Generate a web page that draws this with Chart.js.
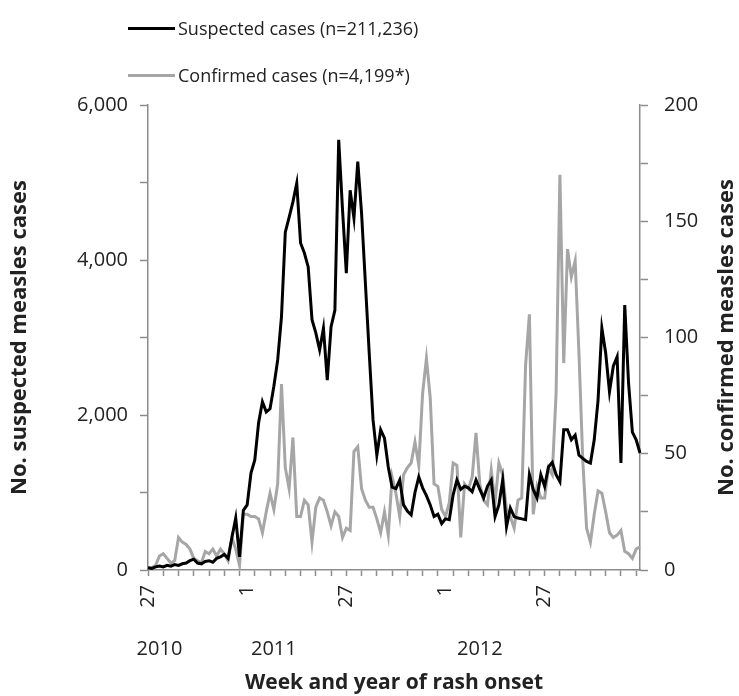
<!DOCTYPE html>
<html>
<head>
<meta charset="utf-8">
<script src="https://cdn.jsdelivr.net/npm/chart.js@4.4.0/dist/chart.umd.min.js"></script>
<style>
  body { margin: 0; background: #fff; }
  #wrap { position: relative; width: 739px; height: 696px; }
  #legend { position: absolute; left: 128px; top: 0; font-family: 'Open Sans', sans-serif; font-size: 18px; color: #222; }
  .item { position: absolute; left: 0; display: flex; align-items: center; white-space: nowrap; }
  .swatch { width: 47px; height: 3px; margin-right: 3px; }
</style>
</head>
<body>
<div id="wrap">
  <canvas id="myChart" width="739" height="696"></canvas>
  <div id="legend"></div>
</div>
<script>
// weeks of rash onset: 2010 wk27 .. 2012 wk52
const years = [2010, 2011, 2012]
const firstWeek = 27
const weeksPerYear = 52

const suspected = [
  30, 20, 40, 50, 40, 60, 50, 70, 60, 80,
  90, 120, 140, 90, 80, 110, 120, 100, 150, 170,
  200, 150, 420, 670, 170, 770, 840, 1250, 1420, 1900,
  2170, 2040, 2080, 2370, 2710, 3270, 4360, 4550, 4750, 4990,
  4220, 4090, 3910, 3230, 3060, 2840, 3120, 2450, 3140, 3350,
  5550, 4650, 3830, 4900, 4540, 5270, 4600, 3700, 2800, 1940,
  1480, 1810, 1700, 1330, 1070, 1050, 1160, 840, 760, 710,
  1000, 1200, 1060, 960, 840, 690, 720, 600, 660, 650,
  970, 1160, 1040, 1080, 1060, 1010, 1160, 1040, 930, 1080,
  1160, 690, 840, 1160, 560, 800, 690, 670, 660, 650,
  1230, 1040, 930, 1230, 1080, 1330, 1390, 1230, 1140, 1810,
  1810, 1680, 1740, 1480, 1440, 1400, 1380, 1680, 2190, 3120,
  2800, 2300, 2630, 2750, 1380, 3420, 2410, 1780, 1680, 1510
]

const confirmed = [
  1, 1, 2, 6, 7, 5, 3, 4, 14, 12,
  11, 9, 5, 4, 3, 8, 7, 9, 6, 9,
  7, 4, 14, 9, 2, 24, 24, 23, 23, 22,
  16, 25, 33, 26, 37, 80, 44, 35, 57, 23,
  23, 30, 28, 12, 27, 31, 30, 25, 19, 25,
  23, 14, 18, 17, 51, 53, 35, 30, 27, 27,
  22, 16, 25, 15, 40, 33, 23, 41, 44, 46,
  55, 45, 76, 91, 74, 37, 36, 26, 23, 29,
  46, 45, 14, 37, 35, 40, 59, 37, 30, 28,
  43, 29, 46, 41, 26, 23, 18, 30, 31, 88,
  110, 24, 36, 31, 31, 44, 41, 76, 170, 89,
  138, 126, 133, 93, 47, 18, 12, 24, 34, 33,
  25, 16, 14, 15, 17, 8, 7, 5, 9, 10
]

const labeledWeeks = [1, 27]
const yearLabelAt = { 3: '2010', 33: '2011', 87: '2012' }
const rightTitleText = 'No. confirmed measles cases'

const categories = []
const weekNumbers = []
years.forEach((yr, k) => {
  const start = k === 0 ? firstWeek : 1
  for (let w = start; w <= weeksPerYear; w++) {
    categories.push(yr + '-' + w)
    weekNumbers.push(w)
  }
})

const fontFamily = "'Open Sans', sans-serif"
const textColor = '#222'
const axisColor = '#8c8c8c'
const tickFont = { family: fontFamily, size: 20 }
const yTitleFont = { family: fontFamily, size: 22, weight: 'bold' }

// right axis title reads bottom-to-top in the original, chart.js turns it the other way
const rightTitle = {
  id: 'rightTitle',
  afterDraw(chart) {
    const s = chart.scales.y1
    const c = chart.ctx
    c.save()
    c.translate(s.right - 12, (s.top + s.bottom) / 2)
    c.rotate(-Math.PI / 2)
    c.textAlign = 'center'
    c.textBaseline = 'middle'
    c.font = yTitleFont.weight + ' ' + yTitleFont.size + 'px ' + fontFamily
    c.fillStyle = textColor
    c.fillText(rightTitleText, 0, 0)
    c.restore()
  }
}

const ctx = document.querySelector('#myChart').getContext('2d')

const chart = new Chart(ctx, {
  type: 'line',
  data: {
    labels: categories,
    datasets: [
      {
        label: 'Suspected cases (n=211,236)',
        data: suspected,
        yAxisID: 'y',
        xAxisID: 'x',
        borderColor: '#000',
        borderWidth: 3,
        pointRadius: 0,
        tension: 0
      },
      {
        label: 'Confirmed cases (n=4,199*)',
        data: confirmed,
        yAxisID: 'y1',
        xAxisID: 'x',
        borderColor: '#a6a6a6',
        borderWidth: 3,
        pointRadius: 0,
        tension: 0
      }
    ]
  },
  options: {
    responsive: false,
    devicePixelRatio: 1,
    animation: false,
    layout: { padding: { top: 105, left: 0, right: 0, bottom: 0 } },
    plugins: {
      legend: { display: false },
      tooltip: { enabled: false }
    },
    scales: {
      x: {
        type: 'category',
        position: 'bottom',
        offset: false,
        grid: {
          drawOnChartArea: false,
          tickLength: 6,
          tickWidth: 1.5,
          tickColor: (c) => c.index % 4 === 0 ? axisColor : 'rgba(0,0,0,0)'
        },
        border: { color: axisColor, width: 1.5 },
        ticks: {
          autoSkip: false,
          maxRotation: 90,
          minRotation: 90,
          padding: 9,
          color: textColor,
          font: tickFont,
          callback: (v, i) => labeledWeeks.includes(weekNumbers[i]) ? String(weekNumbers[i]) : ''
        },
        afterFit: (s) => { s.height = 56 }
      },
      x2: {
        type: 'category',
        position: 'bottom',
        offset: false,
        grid: { display: false },
        border: { display: false },
        ticks: {
          autoSkip: false,
          maxRotation: 0,
          minRotation: 0,
          padding: 3,
          color: textColor,
          font: tickFont,
          callback: (v, i) => yearLabelAt[i] || ''
        },
        title: {
          display: true,
          text: 'Week and year of rash onset',
          color: textColor,
          font: { family: fontFamily, size: 21, weight: 'bold' },
          padding: { top: 0, bottom: 0 }
        },
        afterFit: (s) => { s.height = 70 }
      },
      y: {
        position: 'left',
        min: 0,
        max: 6000,
        grid: { drawOnChartArea: false, tickLength: 8, tickWidth: 1.5, tickColor: axisColor },
        border: { color: axisColor, width: 1.5 },
        ticks: {
          stepSize: 1000,
          padding: 12,
          color: textColor,
          font: tickFont,
          callback: (v) => v % 2000 === 0 ? v.toLocaleString('en-US') : ''
        },
        title: {
          display: true,
          text: 'No. suspected measles cases',
          color: textColor,
          font: yTitleFont,
          padding: { top: 7, bottom: 0 }
        },
        afterFit: (s) => { s.width = 148 }
      },
      y1: {
        position: 'right',
        min: 0,
        max: 200,
        grid: { drawOnChartArea: false, tickLength: 8, tickWidth: 1.5, tickColor: axisColor },
        border: { color: axisColor, width: 1.5 },
        ticks: {
          stepSize: 25,
          padding: 16,
          color: textColor,
          font: tickFont,
          callback: (v) => v % 50 === 0 ? String(v) : ''
        },
        afterFit: (s) => { s.width = 99 }
      }
    }
  },
  plugins: [rightTitle]
})

// legend drawn as html, two rows like the original
const legend = document.querySelector('#legend')
const rowTops = [14, 61]
chart.data.datasets.forEach((ds, i) => {
  const item = document.createElement('div')
  item.className = 'item'
  item.style.top = rowTops[i] + 'px'
  item.style.height = '28px'
  const sw = document.createElement('span')
  sw.className = 'swatch'
  sw.style.background = ds.borderColor
  const txt = document.createElement('span')
  txt.innerText = ds.label
  item.appendChild(sw)
  item.appendChild(txt)
  legend.appendChild(item)
})
</script>
</body>
</html>
